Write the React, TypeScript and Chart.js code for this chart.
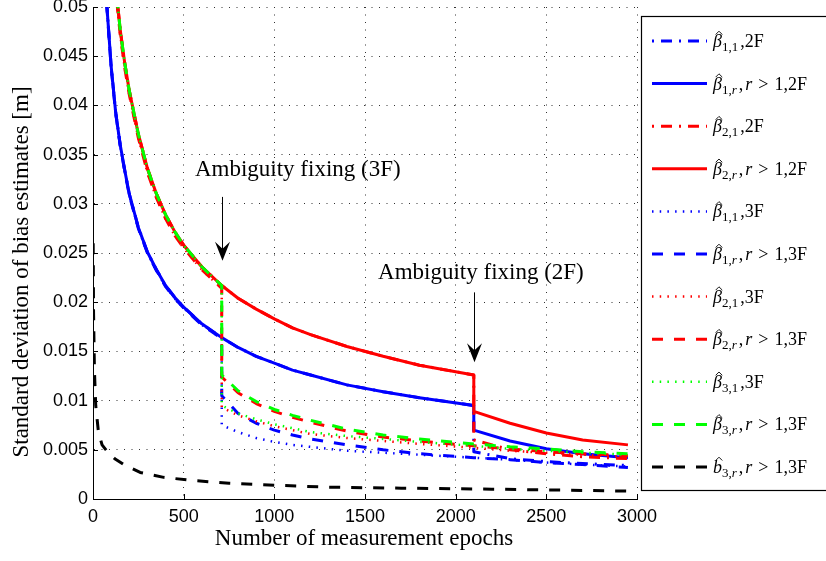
import { useEffect, useRef } from "react";
import { Chart, registerables } from "chart.js";

Chart.register(...registerables);

// Epochs shared by the bias curves (a repeated epoch marks a jump at ambiguity fixing)
const epochs = [50, 75, 100, 125, 150, 175, 200, 250, 300, 350, 400, 450, 500, 600, 710, 710, 800, 900, 1000, 1100, 1200, 1400, 1600, 1800, 2100, 2100, 2300, 2500, 2700, 2950];

const beta11_2F = [0.0615, 0.0505, 0.044, 0.0393, 0.036, 0.0334, 0.031, 0.0276, 0.0251, 0.0233, 0.0217, 0.0205, 0.0195, 0.0178, 0.0164, 0.0164, 0.0154, 0.0145, 0.0138, 0.0131, 0.0126, 0.0116, 0.0109, 0.0103, 0.0095, 0.0048, 0.0041, 0.0038, 0.0036, 0.0034];
const beta1r_2F = [0.0615, 0.0505, 0.044, 0.0393, 0.036, 0.0334, 0.031, 0.0276, 0.0251, 0.0233, 0.0217, 0.0205, 0.0195, 0.0178, 0.0164, 0.0164, 0.0154, 0.0145, 0.0138, 0.0131, 0.0126, 0.0116, 0.0109, 0.0103, 0.0095, 0.007, 0.0059, 0.0051, 0.0046, 0.0042];
const beta21_2F = [0.08, 0.0666, 0.0585, 0.0522, 0.0477, 0.0443, 0.0415, 0.0371, 0.0336, 0.031, 0.0289, 0.0272, 0.0258, 0.0236, 0.0217, 0.0217, 0.0204, 0.0193, 0.0183, 0.0174, 0.0167, 0.0155, 0.0145, 0.0136, 0.0126, 0.006, 0.005, 0.0046, 0.0043, 0.0041];
const beta2r_2F = [0.08, 0.0666, 0.0585, 0.0522, 0.0477, 0.0443, 0.0415, 0.0371, 0.0336, 0.031, 0.0289, 0.0272, 0.0258, 0.0236, 0.0217, 0.0217, 0.0204, 0.0193, 0.0183, 0.0174, 0.0167, 0.0155, 0.0145, 0.0136, 0.0126, 0.0089, 0.0077, 0.0067, 0.006, 0.0055];
const beta11_3F = [0.0614, 0.0504, 0.0439, 0.0392, 0.0359, 0.0333, 0.0309, 0.0275, 0.025, 0.0232, 0.0216, 0.0204, 0.0194, 0.0177, 0.0163, 0.0075, 0.0068, 0.0062, 0.0058, 0.0055, 0.0053, 0.0049, 0.0047, 0.0045, 0.0042, 0.0042, 0.004, 0.0037, 0.0035, 0.0033];
const beta1r_3F = [0.0614, 0.0504, 0.0439, 0.0392, 0.0359, 0.0333, 0.0309, 0.0275, 0.025, 0.0232, 0.0216, 0.0204, 0.0194, 0.0177, 0.0163, 0.0105, 0.0087, 0.0077, 0.007, 0.0065, 0.0061, 0.0055, 0.005, 0.0046, 0.0042, 0.0042, 0.004, 0.0037, 0.0035, 0.0032];
const beta21_3F = [0.0795, 0.0661, 0.058, 0.0517, 0.0472, 0.0438, 0.0411, 0.0367, 0.0332, 0.0306, 0.0285, 0.0268, 0.0255, 0.0233, 0.0214, 0.0093, 0.0085, 0.0079, 0.0074, 0.007, 0.0066, 0.0062, 0.0059, 0.0056, 0.0052, 0.0052, 0.0049, 0.0047, 0.0045, 0.0043];
const beta2r_3F = [0.0795, 0.0661, 0.058, 0.0517, 0.0472, 0.0438, 0.0411, 0.0367, 0.0332, 0.0306, 0.0285, 0.0268, 0.0255, 0.0233, 0.0214, 0.0124, 0.0108, 0.0097, 0.0089, 0.0083, 0.0078, 0.0069, 0.0063, 0.0059, 0.0054, 0.0054, 0.0051, 0.0048, 0.0046, 0.0044];
const beta31_3F = [0.08, 0.0666, 0.0585, 0.0522, 0.0477, 0.0443, 0.0415, 0.0371, 0.0336, 0.031, 0.0289, 0.0272, 0.0258, 0.0236, 0.0217, 0.0095, 0.0087, 0.0081, 0.0076, 0.0072, 0.0068, 0.0064, 0.0061, 0.0058, 0.0054, 0.0054, 0.0051, 0.0049, 0.0047, 0.0045];
const beta3r_3F = [0.08, 0.0666, 0.0585, 0.0522, 0.0477, 0.0443, 0.0415, 0.0371, 0.0336, 0.031, 0.0289, 0.0272, 0.0258, 0.0236, 0.0217, 0.0126, 0.011, 0.0099, 0.0091, 0.0085, 0.008, 0.0071, 0.0065, 0.0061, 0.0056, 0.0056, 0.0053, 0.0051, 0.0048, 0.0046];

// Bias b_3,r
const bEpochs = [1, 3, 8, 15, 30, 50, 80, 120, 170, 260, 390, 540, 750, 1000, 1300, 1700, 2200, 2600, 2950];
const b3r_3F = [0.026, 0.019, 0.013, 0.0095, 0.0068, 0.0055, 0.0048, 0.0041, 0.0035, 0.0027, 0.0022, 0.0019, 0.0016, 0.0014, 0.0012, 0.0011, 0.001, 0.0009, 0.0008];

const xTickValues = [0, 500, 1000, 1500, 2000, 2500, 3000];
const yTickValues = [0, 0.005, 0.01, 0.015, 0.02, 0.025, 0.03, 0.035, 0.04, 0.045, 0.05];

const xTitle = "Number of measurement epochs";
const yTitle = "Standard deviation of bias estimates [m]";
const note3F = { text: "Ambiguity fixing (3F)", epoch: 710, textEpoch: 562, textValue: 0.0328, tail: 0.0307, tip: 0.0242 };
const note2F = { text: "Ambiguity fixing (2F)", epoch: 2100, textEpoch: 1572, textValue: 0.0224, tail: 0.021, tip: 0.0139 };

// label pieces: i = italic, s = subscript, si = italic subscript, n = upright, rel = relation symbol
type Seg = [string, "n" | "i" | "s" | "si" | "rel"];
type Series = { label: Seg[]; color: string; style: string; x: number[]; y: number[] };

const series: Series[] = [
  { label: [["β", "i"], ["1,1", "s"], [",2F", "n"]], color: "#0000ff", style: "dashdot", x: epochs, y: beta11_2F },
  { label: [["β", "i"], ["1,", "s"], ["r", "si"], [",", "n"], ["r", "i"], [">", "rel"], ["1,2F", "n"]], color: "#0000ff", style: "solid", x: epochs, y: beta1r_2F },
  { label: [["β", "i"], ["2,1", "s"], [",2F", "n"]], color: "#ff0000", style: "dashdot", x: epochs, y: beta21_2F },
  { label: [["β", "i"], ["2,", "s"], ["r", "si"], [",", "n"], ["r", "i"], [">", "rel"], ["1,2F", "n"]], color: "#ff0000", style: "solid", x: epochs, y: beta2r_2F },
  { label: [["β", "i"], ["1,1", "s"], [",3F", "n"]], color: "#0000ff", style: "dotted", x: epochs, y: beta11_3F },
  { label: [["β", "i"], ["1,", "s"], ["r", "si"], [",", "n"], ["r", "i"], [">", "rel"], ["1,3F", "n"]], color: "#0000ff", style: "dashed", x: epochs, y: beta1r_3F },
  { label: [["β", "i"], ["2,1", "s"], [",3F", "n"]], color: "#ff0000", style: "dotted", x: epochs, y: beta21_3F },
  { label: [["β", "i"], ["2,", "s"], ["r", "si"], [",", "n"], ["r", "i"], [">", "rel"], ["1,3F", "n"]], color: "#ff0000", style: "dashed", x: epochs, y: beta2r_3F },
  { label: [["β", "i"], ["3,1", "s"], [",3F", "n"]], color: "#00ff00", style: "dotted", x: epochs, y: beta31_3F },
  { label: [["β", "i"], ["3,", "s"], ["r", "si"], [",", "n"], ["r", "i"], [">", "rel"], ["1,3F", "n"]], color: "#00ff00", style: "dashed", x: epochs, y: beta3r_3F },
  { label: [["b", "i"], ["3,", "s"], ["r", "si"], [",", "n"], ["r", "i"], [">", "rel"], ["1,3F", "n"]], color: "#000000", style: "dashed", x: bEpochs, y: b3r_3F },
];

const DASH: Record<string, number[]> = {
  solid: [],
  dashed: [11, 11],
  dashdot: [11, 7, 2, 7],
  dotted: [1.5, 6.2],
};
const WIDTH: Record<string, number> = { solid: 3, dashed: 3, dashdot: 3, dotted: 2.5 };

const SERIF = "'Liberation Serif', 'Times New Roman', serif";
const SANS = "'Liberation Sans', Arial, Helvetica, sans-serif";

function drawArrow(ctx: CanvasRenderingContext2D, px: number, tail: number, tip: number) {
  ctx.strokeStyle = "#000";
  ctx.lineWidth = 1;
  ctx.setLineDash([]);
  ctx.beginPath();
  ctx.moveTo(px, tail);
  ctx.lineTo(px, tip - 6);
  ctx.stroke();
  ctx.fillStyle = "#000";
  ctx.beginPath();
  ctx.moveTo(px, tip);
  ctx.lineTo(px - 7.5, tip - 19);
  ctx.lineTo(px, tip - 12);
  ctx.lineTo(px + 7.5, tip - 19);
  ctx.closePath();
  ctx.fill();
}

const overlay = {
  id: "overlay",
  afterDraw(chart: any) {
    const { ctx, chartArea: a } = chart;
    const xs = chart.scales.x;
    const ys = chart.scales.y;
    ctx.save();
    ctx.setLineDash([]);
    // inward tick marks
    ctx.strokeStyle = "#000";
    ctx.lineWidth = 1;
    ctx.beginPath();
    for (const t of xs.ticks) {
      const px = Math.round(xs.getPixelForValue(t.value)) + 0.5;
      ctx.moveTo(px, a.bottom);
      ctx.lineTo(px, a.bottom - 5);
    }
    for (const t of ys.ticks) {
      const py = Math.round(ys.getPixelForValue(t.value)) + 0.5;
      ctx.moveTo(a.left, py);
      ctx.lineTo(a.left + 5, py);
    }
    ctx.stroke();

    // annotations
    ctx.fillStyle = "#000";
    ctx.font = `23px ${SERIF}`;
    ctx.textAlign = "left";
    ctx.textBaseline = "alphabetic";
    for (const n of [note3F, note2F]) {
      ctx.fillText(n.text, xs.getPixelForValue(n.textEpoch), ys.getPixelForValue(n.textValue));
      drawArrow(ctx, Math.round(xs.getPixelForValue(n.epoch)) + 0.5, ys.getPixelForValue(n.tail), ys.getPixelForValue(n.tip));
    }

    // axis titles
    ctx.font = `23px ${SERIF}`;
    ctx.textAlign = "center";
    ctx.fillText(xTitle, (a.left + a.right) / 2 - 1, 545);
    ctx.save();
    ctx.translate(28, 272);
    ctx.rotate(-Math.PI / 2);
    ctx.fillText(yTitle, 0, 0);
    ctx.restore();

    // legend box
    const bx = 641.5, by = 16.5, bw = 200, bh = 474;
    ctx.fillStyle = "#fff";
    ctx.fillRect(bx, by, bw, bh);
    ctx.strokeStyle = "#000";
    ctx.lineWidth = 1.2;
    ctx.strokeRect(bx, by, bw, bh);
    series.forEach((s, i) => {
      const ly = 41 + i * 42.6;
      ctx.strokeStyle = s.color;
      ctx.lineWidth = WIDTH[s.style];
      ctx.setLineDash(DASH[s.style]);
      ctx.lineDashOffset = s.style === "dashdot" ? 18 : 0;
      ctx.lineCap = "butt";
      ctx.beginPath();
      ctx.moveTo(652, ly);
      ctx.lineTo(707, ly);
      ctx.stroke();
      ctx.setLineDash([]);
      ctx.lineDashOffset = 0;
      // label text
      let tx = 713;
      const base = ly + 6;
      ctx.fillStyle = "#000";
      ctx.textAlign = "left";
      let prev = "";
      s.label.forEach(([txt, st], k) => {
        const sub = st === "s" || st === "si";
        const ital = st === "i" || st === "si";
        const size = sub ? 13 : 18;
        if (st === "rel") tx += 6;
        else if (st === "n" && prev.startsWith("s")) tx += 2;
        else if (st === "i" && k > 0) tx += 2;
        else if (st === "n" && prev === "rel") tx += 6;
        ctx.font = `${ital ? "italic " : ""}${size}px ${SERIF}`;
        const yy = sub ? base + 4 : base;
        ctx.fillText(txt, tx, yy);
        const w = ctx.measureText(txt).width;
        if (k === 0) {
          // hat accent
          const cx = tx + w / 2 + 1.5;
          ctx.strokeStyle = "#000";
          ctx.lineWidth = 0.9;
          ctx.beginPath();
          ctx.moveTo(cx - 3.3, base - 12.5);
          ctx.lineTo(cx, base - 15.8);
          ctx.lineTo(cx + 3.3, base - 12.5);
          ctx.stroke();
        }
        tx += w;
        prev = st;
      });
    });
    ctx.restore();
  },
};

export default function App() {
  const ref = useRef<HTMLCanvasElement | null>(null);
  useEffect(() => {
    if (!ref.current) return;
    const datasets = series.map((s, i) => ({
      label: s.label.map((g) => g[0]).join(""),
      data: s.x.map((x, k) => ({ x, y: s.y[k] })),
      borderColor: s.color,
      backgroundColor: s.color,
      borderWidth: WIDTH[s.style],
      borderDash: DASH[s.style],
      borderCapStyle: "butt" as const,
      borderJoinStyle: "round" as const,
      pointRadius: 0,
      tension: 0,
      fill: false,
      order: series.length - i,
    }));
    const chart = new Chart(ref.current, {
      type: "line",
      data: { datasets },
      plugins: [overlay],
      options: {
        animation: false,
        responsive: false,
        devicePixelRatio: 1,
        layout: { padding: { left: 0, top: 7, right: 189, bottom: 0 } },
        plugins: { legend: { display: false }, tooltip: { enabled: false } },
        scales: {
          x: {
            type: "linear",
            min: 0,
            max: 3000,
            afterBuildTicks: (s: any) => { s.ticks = xTickValues.map((v) => ({ value: v })); },
            afterFit: (s: any) => { s.height = 62; s.paddingLeft = 0; s.paddingRight = 0; },
            ticks: { color: "#000", font: { family: SANS, size: 18 }, padding: 7, maxRotation: 0, callback: (v: any) => String(v) },
            grid: { color: "#333", lineWidth: 1, drawTicks: false },
            border: { display: true, color: "#000", width: 1, dash: [1, 6.5] },
          },
          y: {
            type: "linear",
            min: 0,
            max: 0.05,
            afterBuildTicks: (s: any) => { s.ticks = yTickValues.map((v) => ({ value: v })); },
            afterFit: (s: any) => { s.width = 93; s.paddingTop = 0; s.paddingBottom = 0; },
            ticks: { color: "#000", font: { family: SANS, size: 18 }, padding: 5, callback: (v: any) => String(Number(Number(v).toFixed(3))) },
            grid: { color: "#333", lineWidth: 1, drawTicks: false },
            border: { display: true, color: "#000", width: 1, dash: [1, 6.5] },
          },
        },
      },
    });
    return () => chart.destroy();
  }, []);
  return (
    <div style={{ position: "fixed", left: 0, top: 0, width: 826, height: 561, background: "#fff" }}>
      <canvas ref={ref} width={826} height={561} style={{ display: "block" }} />
    </div>
  );
}
